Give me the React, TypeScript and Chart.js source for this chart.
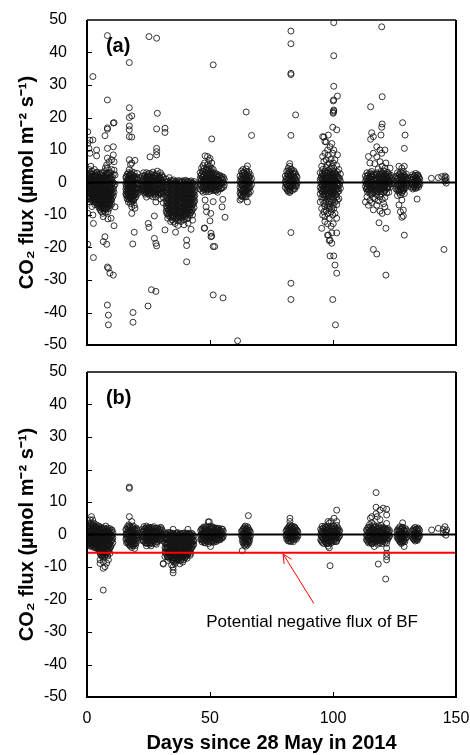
import React, { useEffect, useRef } from "react";
import { Chart, registerables } from "chart.js";

Chart.register(...registerables);

// ---------- axes / labels ----------
const X_MIN = 0;
const X_MAX = 150;
const Y_MIN = -50;
const Y_MAX = 50;
const xTickStep = 50;
const yTickStep = 10;
const yTitle = "CO₂ flux (µmol m⁻² s⁻¹)";
const xTitle = "Days since 28 May in 2014";
const panelLabels = ["(a)", "(b)"];
const panelLabelAt = [7.7, 41.8];
const thresholdFlux = -5.6;
const noteText = "Potential negative flux of BF";
const noteAt = [91.5, -27.1];
const arrowFrom = [92.2, -21.2];
const arrowTo = [79.7, -6.0];

// ---------- panel (a): [day, fluxes observed on that day] ----------
const fluxA: [number, number[]][] = [
  [0.3, [15.6, 12, 2.5, 1, -0.5, -2, -3.5, -5, -9.5, -19]],
  [0.8, [10.5, 4, 2, 0.5, -1, -2.5, -4, -1.5]],
  [1.2, [9, 13, 3, 1.5, 0, -1, -3, -4.5, -6]],
  [1.6, [5, 2.5, 0.8, -0.5, -2, -3.2, -5.5]],
  [2.0, [3.5, 1.5, -0.2, -1.5, -2.8, -4, -7.4]],
  [2.4, [32.6, 13.1, 2, 0.5, -1, -2.3, -3.6, -5, -10]],
  [2.6, [1, -0.7, -2, -3, -12.6, -23.1]],
  [3.0, [4, 2.2, 0.3, -1.2, -2.5, -3.8, -4.8]],
  [3.5, [1.5, -0.3, -1.8, -3.2, -4.5, -6]],
  [3.9, [10, 8.2, 3, 1, -0.5, -2, -3.5, -5, -6.5]],
  [4.4, [2, 0.2, -1.5, -2.7, -4, -5.5, -7]],
  [4.9, [1.2, -0.4, -2, -3.3, -4.6, -6, -7.8]],
  [5.4, [2.5, 0.6, -1, -2.5, -3.8, -5.2, -6.8, -8.5]],
  [5.9, [1.5, 0, -1.6, -3, -4.3, -5.7, -7.3, -9]],
  [6.4, [3, 0.9, -0.7, -2.2, -3.6, -5, -6.4, -8, -9.5]],
  [6.6, [-10.5, -18.2]],
  [7.0, [2, 0.3, -1.3, -2.8, -4.1, -5.5, -7, -8.6]],
  [7.3, [14.4, -16.7]],
  [7.5, [4.5, 1.2, -0.5, -2, -3.4, -4.8, -6.2, -7.7, -9.2]],
  [8.0, [5.4, 2.5, 0.5, -1.2, -2.6, -4, -5.5, -6.8, -8.2, -19]],
  [8.3, [45.2, 25.4, 16.8, 16.4, 10.5, 7.5, 4.4, -26, -37.7]],
  [8.5, [1.5, -0.3, -1.9, -3.3, -4.7, -6, -7.5, -9, -11.2]],
  [8.7, [-26.4, -40.8, -43.8]],
  [9.0, [6.4, 3, 0.8, -1, -2.5, -3.9, -5.2, -6.6, -8]],
  [9.3, [-27.9]],
  [9.5, [2, 0, -1.6, -3, -4.4, -5.8, -7.1]],
  [9.8, [-11]],
  [10.0, [7, 4, 1, -0.8, -2.4, -3.8, -5.4, -6.7]],
  [10.7, [18.3, 11, 8.5, 2.5, 0, -2, -4, -28.5]],
  [11.0, [18.4, 6.4, 3.8, -1, -3, -13.3]],
  [11.4, [2.3, -0.5, -7.5]],

  [15.8, [1.5, -0.5, -2, -3.5]],
  [16.3, [2.5, 0.8, -0.8, -2.4, -3.8, -5]],
  [16.8, [3, 1.2, -0.3, -1.8, -3.2, -4.6, -6]],
  [17.2, [36.9, 23, 20, 17.4, 16.2, 14.1, 7, 4, 2, 0.4, -1.2, -2.6, -4, -5.4]],
  [17.7, [5.5, 2.6, 1, -0.6, -2, -3.4, -4.8, -6.5]],
  [18.2, [20.5, 14, 6, 3.3, 1.6, 0, -1.5, -3, -4.4, -6, -7.5, -9.5]],
  [18.6, [-18.9]],
  [18.7, [2.2, 0.4, -1.1, -2.6, -4, -5.3, -40, -43]],
  [19.2, [3, 1.2, -0.4, -2, -3.5, -5, -7, -15.3]],
  [19.5, [6.8, -7.9]],
  [19.8, [1.8, 0, -1.6, -3, -4.5]],
  [20.4, [2.8, 0.9, -0.7, -2.2, -3.6]],
  [21.0, [1.5, -0.2, -1.8, -3]],

  [22.5, [2, 0.4, -1, -2.4]],
  [23.0, [3, 1.2, -0.3, -1.7, -3]],
  [23.6, [2.2, 0.6, -0.9, -2.3, -3.6]],
  [24.2, [3, 1.3, -0.2, -1.6, -3, -4.5]],
  [24.8, [2.4, 0.8, -0.7, -2.1, -3.5, -38]],
  [24.9, [-12.6]],
  [25.2, [44.9, 2.8, 1, -0.5, -2, -3.4, -13.8]],
  [25.6, [7.9, 1.8, 0.2, -1.3, -2.7, -4]],
  [26.2, [2.6, 1, -0.5, -2, -3.3, -33]],
  [26.8, [3.2, 1.5, 0, -1.5, -2.8, -4.4]],
  [27.4, [2.2, 0.5, -1, -2.4, -3.7, -10.3, -17.2]],
  [28.0, [1.4, -0.2, -1.7, -3, -4.5, -6, -18.7, -33.5]],
  [28.3, [44.4, 16.5, 10.5, 9.5, 8.5, 2.6, 0.8, -19.5]],
  [28.6, [21.3, 3.5, -0.7, -2.2]],
  [29.2, [2, 0.4, -1.1, -2.5, -3.8]],
  [29.8, [3, 1.2, -0.4, -1.8, -3.2, -5]],
  [30.4, [2.3, 0.6, -0.9, -2.3, -3.6]],
  [31.0, [1.5, 0, -1.5, -3, -4.6, -6.2]],
  [31.7, [16.7, 15.4, -14.6]],

  [32.2, [1, -0.8, -2.4, -4, -5.6, -7.2, -8.8]],
  [32.8, [0.3, -1.4, -3, -4.6, -6.2, -7.8, -9.4, -11]],
  [33.4, [1.5, -0.2, -1.8, -3.4, -5, -6.6, -8.2, -9.8]],
  [34.0, [0.6, -1, -2.6, -4.2, -5.8, -7.4, -9, -10.6, -12]],
  [34.6, [-0.4, -2, -3.6, -5.2, -6.8, -8.4, -10, -11.5]],
  [35.2, [0.8, -0.8, -2.4, -4, -5.6, -7.2, -8.8, -10.4, -12]],
  [35.8, [-0.2, -1.8, -3.4, -5, -6.6, -8.2, -9.8, -12.6]],
  [36.0, [-15.3]],
  [36.4, [0.4, -1.2, -2.8, -4.4, -6, -7.6, -9.2, -10.8]],
  [37.0, [-0.6, -2.2, -3.8, -5.4, -7, -8.6, -10.2, -11.8, -13.2]],
  [37.6, [0.2, -1.4, -3, -4.6, -6.2, -7.8, -9.4, -11]],
  [38.2, [-0.8, -2.4, -4, -5.6, -7.2, -8.8, -10.4, -12]],
  [38.8, [0.5, -1.1, -2.7, -4.3, -5.9, -7.5, -9.1, -10.7]],
  [39.4, [-0.3, -1.9, -3.5, -5.1, -6.7, -8.3, -9.9, -11.5, -13]],
  [40.0, [0.7, -0.9, -2.5, -4.1, -5.7, -7.3, -8.9, -10.5]],
  [40.5, [-1.6, -3.2, -4.8, -6.4, -8, -9.6, -11.2, -17.7, -19.4, -24.4]],
  [41.1, [0.2, -1.4, -3, -4.6, -6.2, -7.8, -9.4, -11, -12.5]],
  [41.7, [-0.5, -2.1, -3.7, -5.3, -6.9, -8.5, -10.1]],
  [42.3, [0.5, -1.2, -2.8, -4.4, -6, -7.6, -9.2, -14.4]],
  [42.9, [-0.3, -1.9, -3.5, -5.1, -6.7, -8.3, -10, -11.6]],
  [43.5, [0.3, -1.3, -2.9, -4.5, -6.1, -7.7]],

  [46.0, [3, 1.2, -0.4, -2]],
  [46.6, [4.5, 2.5, 0.8, -0.8, -2.5]],
  [47.2, [5.2, 3.3, 1.6, 0, -1.6, -3]],
  [47.7, [-14.1]],
  [47.8, [6, 2.2, 0.5, -1.2, -14]],
  [48.0, [8.2, -5.4]],
  [48.4, [4, 1.8, 0.2, -1.4, -2.8, -7.5]],
  [48.6, [-9]],
  [49.0, [8, 5.5, 3, 1, -0.6, -2.2]],
  [49.6, [6.8, 4.2, 2.2, 0.5, -1.2, -2.8]],
  [50.0, [7.4, -11.8]],
  [50.3, [3.5, 1.4, -0.3, -2, -9.5]],
  [50.4, [-15.6, -16.7]],
  [50.7, [13.4, 6, 2.6, 0.8, -1, -2.5, -16.5]],
  [51.3, [36.2, 4, 1.8, 0, -1.6, -5.9, -19.7, -34.6]],
  [51.9, [3, 1, -0.7, -2.2, -19.7]],
  [52.5, [2.2, 0.6, -1, -2.6]],
  [53.1, [1.6, 0, -1.5, -3]],
  [53.7, [2, 0.4, -1.2]],
  [54.3, [1.2, -0.4, -2]],
  [54.9, [1.8, 0, -1.6, -7.5]],
  [55.2, [0.8, -5.2]],
  [55.3, [-35.5]],
  [55.8, [1, -0.8]],
  [56.1, [-10.7]],

  [61.2, [-48.7]],
  [62.2, [2, 0.3, -1.5, -3.2, -5.4]],
  [62.8, [3.5, 1.5, -0.2, -2, -3.6, -5]],
  [63.4, [4, 2.2, 0.6, -1, -2.6, -4.2]],
  [64.0, [3, 1.2, -0.4, -2, -3.6]],
  [64.7, [21.7, 4.2, 2, 0.4, -1.2, -2.8, -4.4]],
  [65.2, [5.1, 2.6, 0.9, -0.8, -2.4, -6]],
  [65.8, [3.2, 1.4, -0.2, -1.8, -3.4]],
  [66.4, [2.4, 0.6, -1.2, -2.8]],
  [66.9, [14.5, 1.2, -0.6]],

  [80.6, [2, 0.2, -1.5]],
  [81.2, [3.5, 1.5, -0.3, -2]],
  [81.8, [4.4, 2.4, 0.6, -1.2, -2.8]],
  [82.4, [5.8, 5, 3.2, 1.3, -0.5, -2.2, -3.1]],
  [82.9, [46.6, 42.7, 33.6, 33.2, 14.5, 4, 2, 0.2, -1.6, -15.4, -31, -36]],
  [83.5, [3, 1.2, -0.6, -2.4]],
  [84.1, [3.6, 1.8, 0, -1.8]],
  [84.8, [20.8, 2.6, 0.8, -1]],
  [85.4, [1.6, -0.2]],

  [94.8, [3, 0.8, -1.5, -3.5, -6]],
  [95.4, [5, 2, 0, -2, -4.5, -8, -14.1]],
  [95.8, [14.1, 8, 4, 1.2, -0.8, -3, -5.5, -10]],
  [96.3, [14, 6.5, 2.5, 0.5, -1.5, -3.8, -6.5, -9]],
  [96.7, [12.6, 9, 3.5, 1, -1, -2.6, -4.6, -7.4, -10.5, -12]],
  [97.2, [12.5, 7, 4.6, 2, 0, -2, -4, -6, -8.6]],
  [97.8, [10, 5.5, 2.8, 0.6, -1.4, -3.2, -5.2, -7.2, -9.6, -12.7, -16.2]],
  [98.1, [14.6, 8.4, 3.6, 1.4, -0.6, -2.4, -4.4, -6.6, -16.2]],
  [98.5, [6, 2.4, 0.2, -1.8, -3.6, -5.8, -8, -11, -17.9]],
  [98.8, [11, 4.2, 1.8, -0.4, -2.8, -5, -7.6, -17.7, -22.6]],
  [99.2, [7.2, 3, 0.8, -1.2, -3.2, -6, -9, -13.5]],
  [99.5, [12, 5, 2.2, 0, -2, -4.2, -8, -15.5, -18.7]],
  [99.9, [17, 9, 3.6, 1.2, -0.8, -2.8, -5.4, -10, -36]],
  [100.1, [25.1, 21.6, 21.3, 6, 2.6, 0.4, -1.6, -3.6, -7, -12.7]],
  [100.3, [49.2, 39, 29.6, 25.4, 22.3, 22, 10, 4.4, 1.6, -0.6, -2.6, -4.8, -8, -22.6]],
  [100.8, [7, 3, 0.8, -1.2, -3.4, -6, -9.5, -25.4]],
  [101.0, [-43.8]],
  [101.5, [16.2, 5.2, 2, -0.2, -2.2, -4.4, -6.8, -11, -15.5, -27.9]],
  [101.8, [26.6, 8.5, 3.2, 1, -1, -3, -5.5]],
  [102.4, [4, 1.4, -0.6, -2.6, -5]],
  [103.0, [2.6, 0.4, -1.8]],

  [113.2, [2, 0.4, -1.2, -6]],
  [113.8, [3, 1.2, -0.4, -2, -4.4]],
  [114.4, [8, 2.4, 0.8, -0.8, -2.4, -7]],
  [115.0, [6, 3, 1.4, -0.2, -1.8, -3.4, -5.5]],
  [115.3, [23.3, 13.3, 2, 0.4, -1.2]],
  [115.7, [15.3, 3.4, 1.6, 0, -1.6, -3.6, -6.2]],
  [116.4, [14.1, 9, 2.6, 1, -0.6, -2.2, -4.6, -8.4, -20.6]],
  [117.0, [5.8, 2.2, 0.6, -1, -2.6, -5]],
  [117.8, [11, 7.9, 3, 1.2, -0.4, -2, -3.8, -7, -22]],
  [118.4, [4.2, 1.8, 0.2, -1.4, -3, -5.6]],
  [118.7, [-12.4]],
  [119.1, [10, 6.4, 2.6, 1, -0.6, -2.2, -4.4, -8.8]],
  [119.5, [14.6, 3.4, 1.4, -0.2, -1.8, -3.6]],
  [119.8, [47.9, 17, 9, 2, 0.6, -1]],
  [120.0, [26.4, 18, 5, 2.8, 1.2, -0.4, -2, -5.2, -9.5]],
  [120.6, [3.6, 1.8, 0.2, -1.4, -3, -6.5]],
  [121.1, [10, 4.4, 2.2, 0.6, -1, -2.6, -4.6, -7.5]],
  [121.5, [6, 2.6, 1, -0.6, -14.1, -28.5]],
  [122.1, [3.2, 1.4, -0.2, -1.8, -9]],
  [122.7, [2.6, 0.8, -0.8, -3]],
  [123.2, [4.4, 1.8, 0.2, -1.4]],
  [123.8, [1.2, -0.4]],

  [125.6, [1.5, -0.3, -2]],
  [126.2, [3, 1.2, -0.6, -2.4, -4]],
  [126.8, [5, 2.4, 0.6, -1.2, -3, -6.9]],
  [127.4, [3.2, 1.6, -0.2, -2, -3.8, -9]],
  [128.0, [4.4, 2, 0.4, -1.4, -3.2, -5.4, -10.7]],
  [128.3, [18.4]],
  [128.6, [3.4, 1.2, -0.6, -2.4, -8.5, -10.3]],
  [129.0, [10.5, 5, 2.2, 0.4, -1.4, -3.4, -16.2]],
  [129.3, [14.6, 1.6, -0.4]],
  [129.8, [2.6, 0.8, -1]],
  [130.3, [1.4, -0.4]],

  [131.8, [1.6, 0, -1.4]],
  [132.4, [2.4, 0.8, -0.8, -2]],
  [133.0, [2, 0.4, -1.2]],
  [133.6, [2.8, 1.2, -0.4, -1.8]],
  [134.2, [2.2, 0.6, -1, -5.1]],
  [134.8, [1.8, 0.2, -1.4]],
  [135.3, [1, -0.6]],

  [140.0, [1.3]],
  [142.8, [1.5]],
  [144.2, [1.8]],
  [145.1, [-20.6]],
  [145.5, [2, 1.2, 0.4]],
  [146.0, [1.6, 0.6, -0.2]],
];

// panel (a): extra readings inside the dense dark cores
const fluxACore: [number, number[]][] = [
  [0.5, [1.8, 0.2, -1.2, -2.8, -4.2]],
  [1.0, [2.8, 1, -0.4, -2, -3.6, -5]],
  [1.4, [1.6, -0.2, -1.8, -3.4, -4.8]],
  [2.2, [2.6, 0.9, -0.8, -2.2, -3.8, -5.4]],
  [2.8, [1.8, 0, -1.4, -3.2, -4.4, -6]],
  [3.2, [2.8, 1, -0.6, -2, -3.6, -5.4, -6.8]],
  [3.7, [2, 0.6, -1.2, -2.6, -4, -5.4]],
  [4.1, [3.2, 1.4, -0.2, -1.8, -3.4, -4.8, -6.2]],
  [4.6, [2.4, 0.8, -0.8, -2.4, -3.8, -5.2, -6.6]],
  [5.1, [1.8, 0.2, -1.4, -2.8, -4.2, -5.6, -7.2]],
  [5.6, [3, 1.2, -0.4, -2, -3.4, -4.8, -6.2, -7.8]],
  [6.1, [2.2, 0.4, -1.2, -2.6, -4, -5.6, -7]],
  [6.8, [1.2, -0.4, -2, -3.4, -4.8, -6.2, -7.8]],
  [7.2, [3.4, 1.4, -0.2, -1.8, -3.2, -4.6, -6.4, -8]],
  [7.8, [2.2, 0.6, -1, -2.4, -3.8, -5.2, -6.6, -7.9]],
  [8.2, [3, 1.2, -0.4, -2, -3.4, -4.8, -6.2, -7.6]],
  [8.8, [2.4, 0.6, -1.2, -2.6, -4, -5.4, -6.8]],
  [9.2, [1.4, -0.2, -1.8, -3.2, -4.6, -6]],
  [9.7, [3, 0.8, -0.8, -2.4, -3.6, -5]],
  [10.3, [1.6, -0.2, -1.8, -3.2, -4.6]],

  [16.0, [1.8, 0.2, -1.2, -2.8, -4]],
  [16.6, [1, -0.4, -1.8, -3.2]],
  [17.0, [2.2, 0.8, -0.8, -2.2, -3.6, -5]],
  [17.5, [1.4, -0.2, -1.6, -3, -4.4]],
  [18.0, [2.6, 1, -0.6, -2.2, -3.6, -5.2]],
  [18.5, [1.2, -0.4, -1.8, -3.4, -4.8]],
  [19.0, [2, 0.4, -1, -2.6, -4, -5.6]],
  [19.6, [1, -0.6, -2.2, -3.8]],
  [20.1, [1.4, -0.2, -1.8, -3]],
  [20.7, [0.8, -0.8, -2.4]],

  [22.8, [1, -0.6, -1.8]],
  [23.3, [1.8, 0.2, -1.2, -2.6]],
  [23.9, [1.2, -0.4, -1.8, -3]],
  [24.5, [2, 0.4, -1.2, -2.6]],
  [25.0, [1.6, 0, -1.4, -2.8]],
  [25.9, [1.2, -0.4, -2, -3.2]],
  [26.5, [2, 0.4, -1.2, -2.6]],
  [27.1, [1.4, -0.2, -1.8, -3]],
  [27.7, [2.2, 0.8, -0.6, -2, -3.4]],
  [28.9, [1.2, -0.4, -2, -3.2]],
  [29.5, [1.6, 0, -1.6, -3]],
  [30.1, [1.2, -0.4, -1.8, -3.2]],
  [30.7, [1.8, 0.2, -1.2, -2.6]],

  [32.5, [0, -1.6, -3.2, -4.8, -6.4, -8, -9.6]],
  [33.1, [-0.6, -2.2, -3.8, -5.4, -7, -8.6, -10.2]],
  [33.7, [0.2, -1.4, -3, -4.6, -6.2, -7.8, -9.4]],
  [34.3, [-0.4, -2, -3.6, -5.2, -6.8, -8.4, -10]],
  [34.9, [0.4, -1.2, -2.8, -4.4, -6, -7.6, -9.2, -10.8]],
  [35.5, [-0.6, -2.2, -3.8, -5.4, -7, -8.6, -10.2]],
  [36.1, [0, -1.6, -3.2, -4.8, -6.4, -8, -9.6, -11.2]],
  [36.7, [-0.4, -2, -3.6, -5.2, -6.8, -8.4, -10]],
  [37.3, [0.6, -1, -2.6, -4.2, -5.8, -7.4, -9, -10.6]],
  [37.9, [-0.2, -1.8, -3.4, -5, -6.6, -8.2, -9.8]],
  [38.5, [0.2, -1.4, -3, -4.6, -6.2, -7.8, -9.4, -11]],
  [39.1, [-0.6, -2.2, -3.8, -5.4, -7, -8.6, -10.2]],
  [39.7, [0.2, -1.4, -3, -4.6, -6.2, -7.8, -9.4]],
  [40.3, [-0.4, -2, -3.6, -5.2, -6.8, -8.4, -10]],
  [40.8, [0.4, -1.2, -2.8, -4.4, -6, -7.6, -9.2]],
  [41.4, [-0.2, -1.8, -3.4, -5, -6.6, -8.2, -9.8]],
  [42.0, [0.2, -1.4, -3, -4.6, -6.2, -7.8, -9.4]],
  [42.6, [-0.6, -2.2, -3.8, -5.4, -7, -8.6]],
  [43.2, [-0.2, -1.8, -3.4, -5, -6.6]],
  [43.8, [-0.8, -2.4, -4, -5.6]],

  [46.3, [2, 0.4, -1.2]],
  [46.9, [3.4, 1.6, 0, -1.6]],
  [47.5, [4.2, 2.4, 0.8, -0.8, -2.2]],
  [48.1, [3, 1.2, -0.4, -2]],
  [48.7, [4.6, 2.6, 1, -0.6, -2]],
  [49.3, [3.8, 1.8, 0.2, -1.4]],
  [49.9, [5, 2.8, 1.2, -0.4, -2]],
  [50.5, [4.4, 2, 0.4, -1.4]],
  [51.0, [3, 1.2, -0.4, -2]],
  [51.6, [2.6, 0.8, -0.8, -2.4]],
  [52.2, [1.8, 0, -1.6]],
  [52.8, [2.6, 1, -0.6, -2.2]],
  [53.4, [1, -0.6, -2]],
  [54.0, [2.2, 0.6, -1]],
  [54.6, [1.4, -0.2, -1.8]],
  [55.5, [1.6, 0, -1.4]],

  [62.5, [1, -0.6, -2.4, -4]],
  [63.1, [2.8, 1, -0.8, -2.6, -4.4]],
  [63.7, [3.2, 1.6, -0.2, -1.8, -3.4]],
  [64.3, [2.4, 0.8, -1, -2.8, -4.2]],
  [64.9, [3.4, 1.6, -0.2, -2, -3.6]],
  [65.5, [2, 0.4, -1.4, -3]],
  [66.1, [1.8, 0, -1.6]],

  [80.9, [1, -0.6]],
  [81.5, [2.6, 0.8, -1, -2.4]],
  [82.1, [3.6, 1.8, 0, -1.8]],
  [82.6, [2.4, 0.6, -1.2, -2.6]],
  [83.2, [4, 2.2, 0.4, -1.2]],
  [83.8, [2.6, 0.8, -1]],
  [84.4, [3, 1.2, -0.6, -2]],
  [85.1, [2, 0.4, -1.2]],

  [95.1, [1.4, -0.4, -2.4]],
  [95.6, [2.8, 1, -1, -2.8]],
  [96.0, [2, 0, -2, -3.8]],
  [96.5, [3, 1.2, -0.6, -2.6]],
  [97.0, [1.6, -0.2, -2.2, -3.6]],
  [97.5, [3.2, 1.2, -0.8, -2.6]],
  [98.3, [2, 0, -2, -4]],
  [98.9, [3, 1, -1, -3]],
  [99.4, [1.8, -0.2, -2.4]],
  [99.7, [2.6, 0.6, -1.4, -3.6]],
  [100.5, [3, 1, -1, -3]],
  [101.2, [2.2, 0.2, -1.8, -3.8]],
  [102.0, [1.8, -0.2, -2]],
  [102.7, [1.2, -0.8]],

  [113.5, [1.2, -0.4, -2]],
  [114.1, [2, 0.2, -1.4, -3]],
  [114.7, [1.2, -0.4, -2.2]],
  [115.5, [2.6, 0.8, -0.8, -2.4]],
  [116.1, [1.8, 0, -1.8, -3.2]],
  [116.7, [2.4, 0.4, -1.4, -3]],
  [117.4, [1.4, -0.4, -2]],
  [118.1, [2.6, 0.6, -1, -2.6]],
  [118.8, [1.6, -0.2, -1.8]],
  [119.4, [2.4, 0.4, -1.2, -2.8]],
  [120.3, [1.8, 0, -1.6]],
  [120.9, [2.6, 0.8, -0.8, -2.2]],
  [121.8, [1.8, 0.2, -1.6, -3.2]],
  [122.4, [2, 0.2, -1.4]],
  [123.0, [1.4, -0.4]],
  [123.5, [2.2, 0.6]],

  [125.9, [2, 0.4, -1.2]],
  [126.5, [1.4, -0.4, -2]],
  [127.1, [2.4, 0.8, -1, -2.6]],
  [127.7, [1.2, -0.6, -2.2]],
  [128.3, [2.8, 1, -0.8, -2.6]],
  [128.9, [1.6, -0.2, -2]],
  [129.6, [1.8, 0, -1.6]],
  [130.0, [0.8, -0.8]],

  [132.1, [1, -0.6]],
  [132.7, [1.6, 0, -1.6]],
  [133.3, [2.2, 0.6, -1]],
  [133.9, [1.4, -0.2, -1.6]],
  [134.5, [2.4, 0.8, -0.8]],
  [135.0, [1.4, -0.2]],
];

// ---------- panel (b) ----------
const fluxB: [number, number[]][] = [
  [0.3, [2.5, 1, -0.4, -1.8, -3]],
  [0.8, [3.5, 1.8, 0.3, -1.2, -2.6]],
  [1.3, [4.5, 2.4, 0.8, -0.7, -2.2, -3.6]],
  [1.8, [5.5, 3.2, 1.5, 0, -1.5, -3]],
  [2.3, [4.5, 2.6, 1, -0.5, -2, -3.4]],
  [2.8, [3.5, 1.8, 0.3, -1.2, -2.7, -4]],
  [3.3, [2.4, 0.9, -0.6, -2, -3.4]],
  [3.8, [3, 1.4, -0.1, -1.6, -3, -4.2]],
  [4.3, [2, 0.5, -1, -2.4, -3.8]],
  [4.8, [2.6, 1, -0.5, -2, -3.4, -4.8]],
  [5.3, [1.6, 0.1, -1.4, -2.8, -4.2, -5.6, -7.8, -8.9]],
  [5.8, [2.2, 0.6, -0.9, -2.4, -3.8, -5.2]],
  [6.0, [-6.3]],
  [6.3, [1.4, -0.1, -1.6, -3, -4.4, -5.8, -7]],
  [6.6, [-8.4, -10.4, -17.1]],
  [6.9, [2, 0.4, -1.1, -2.6, -4, -5.4]],
  [7.3, [-9.9]],
  [7.6, [2.6, 1, -0.5, -2, -3.5, -4.9, -6.2]],
  [8.0, [-8.8]],
  [8.2, [1.6, 0, -1.5, -3, -4.4, -5.6]],
  [8.7, [1, -0.6, -2.1, -3.6, -5, -7.8]],
  [9.3, [1.8, 0.2, -1.3, -2.8, -4.2, -5.8]],
  [9.9, [1.2, -0.4, -1.9, -3.3]],
  [10.5, [0.6, -1, -2.5]],

  [15.8, [1.5, 0, -1.4]],
  [16.4, [2.4, 0.8, -0.8, -2.2]],
  [17.0, [3, 1.4, -0.2, -1.6, -3]],
  [17.2, [14.6, 14.2, 5.5]],
  [17.6, [2.2, 0.6, -1, -2.4, -3.6]],
  [18.2, [4, 1.8, 0.2, -1.3, -2.8, -4]],
  [18.8, [2.6, 1, -0.6, -2, -3.4]],
  [19.4, [1.6, 0, -1.5, -2.9, -4.3]],
  [20.0, [2, 0.4, -1.2, -2.6]],
  [20.6, [1.2, -0.4, -1.8]],

  [22.5, [1.6, 0, -1.5]],
  [23.1, [2.4, 0.8, -0.8, -2]],
  [23.7, [1.8, 0.2, -1.3, -2.6]],
  [24.2, [2.6, 1, -0.6, -2, -3.5]],
  [24.8, [2, 0.4, -1.1, -2.5]],
  [25.4, [1.4, -0.2, -1.7, -3]],
  [26.0, [2.2, 0.6, -1, -2.4, -3.5]],
  [26.6, [1.6, 0, -1.5, -2.8]],
  [27.2, [2.4, 0.8, -0.7, -2.1]],
  [27.8, [1.8, 0.2, -1.3, -2.7]],
  [28.2, [1, -0.6, -3]],
  [28.8, [2, 0.4, -1.2]],
  [29.4, [1.4, -0.2, -1.7]],
  [30.0, [2.2, 0.6, -0.9]],
  [30.6, [1.2, -0.4, -1.9]],

  [31.0, [-8.9, -9.1]],
  [31.7, [0.5, -1, -2.5, -4, -5.4, -6.8]],
  [32.3, [-0.2, -1.7, -3.2, -4.6, -6]],
  [32.9, [0.6, -0.9, -2.4, -3.9, -5.3, -6.8, -8]],
  [33.5, [-0.4, -1.9, -3.4, -4.8, -6.2, -7.4]],
  [34.1, [0.3, -1.2, -2.7, -4.1, -5.5, -6.9]],
  [34.4, [-9.4]],
  [34.7, [-0.6, -2.1, -3.6, -5, -6.4, -7.8]],
  [35.0, [1.6, -10, -10.9, -11.8]],
  [35.3, [0.1, -1.4, -2.9, -4.3, -5.7, -7.1, -8.4]],
  [35.8, [-8.9]],
  [35.9, [-0.5, -2, -3.5, -4.9, -6.3, -7.6]],
  [36.5, [0.4, -1.1, -2.6, -4, -5.4, -6.8, -8.2]],
  [37.1, [-0.3, -1.8, -3.3, -4.7, -6.1, -7.4]],
  [37.7, [0.2, -1.3, -2.8, -4.2, -5.6, -7, -9]],
  [38.3, [-0.6, -2.1, -3.6, -5, -6.4, -7.8]],
  [38.9, [0.3, -1.2, -2.7, -4.1, -5.5, -6.9, -8.5]],
  [39.3, [-7.8]],
  [39.5, [-0.4, -1.9, -3.4, -4.8, -6.2]],
  [40.1, [0.5, -1, -2.5, -3.9, -5.3, -6.8]],
  [40.7, [-0.2, -1.7, -3.2, -4.6, -6, -7.3]],
  [41.0, [1.6]],
  [41.3, [0.2, -1.3, -2.8, -4.2, -5.6]],
  [41.9, [-0.5, -2, -3.5, -4.9, -6.4]],
  [42.5, [0.3, -1.2, -2.7, -4.1]],
  [43.1, [-0.4, -1.9, -3.3]],

  [46.2, [1.2, -0.3, -1.6]],
  [46.8, [1.8, 0.3, -1.1, -2.3]],
  [47.4, [2.3, 0.8, -0.6, -1.9]],
  [48.0, [1.6, 0.1, -1.3, -2.6]],
  [48.6, [2.2, 0.7, -0.7, -2]],
  [49.3, [3.9, 1.5, 0, -1.4, -2.8]],
  [49.7, [3.9]],
  [50.0, [2.6, 1, -0.5, -1.8]],
  [50.2, [-3.7]],
  [50.6, [1.8, 0.3, -1.1, -2.4]],
  [51.2, [2.2, 0.7, -0.8, -2]],
  [51.8, [1.4, -0.1, -1.5]],
  [52.4, [2, 0.5, -0.9, -2.2]],
  [53.0, [1.5, 0, -1.4]],
  [53.6, [1.9, 0.4, -1]],
  [54.2, [1.2, -0.3, -1.6]],
  [54.8, [1.7, 0.2, -1.1]],
  [55.4, [1, -0.5]],

  [62.8, [1, -0.4]],
  [63.1, [-5]],
  [63.4, [1.6, 0.2, -1.2, -2.6]],
  [64.0, [2.2, 0.8, -0.6, -2, -3.3]],
  [64.6, [1.8, 0.4, -1, -2.4, -3.6]],
  [65.2, [2.4, 1, -0.4, -1.8, -3.2]],
  [65.6, [5.8]],
  [65.8, [1.4, 0, -1.4, -2.6]],
  [66.4, [0.8, -0.6]],

  [80.9, [1, -0.4]],
  [81.5, [1.8, 0.4, -1]],
  [82.1, [2.4, 1, -0.4, -1.8]],
  [82.5, [5, 4, 2.9]],
  [82.7, [2, 0.6, -0.8, -2.2]],
  [83.3, [2.6, 1.2, -0.2, -1.6]],
  [83.9, [1.8, 0.4, -1, -2.2]],
  [84.5, [2.2, 0.8, -0.6]],
  [85.1, [1.4, 0, -1.4]],
  [85.7, [0.8, -0.6]],

  [95.0, [1.6, 0, -1.6]],
  [95.6, [2.5, 0.8, -0.8, -2.4]],
  [96.2, [2, 0.4, -1.2, -2.8]],
  [96.8, [2.6, 1, -0.6, -2.2]],
  [97.4, [1.8, 0.2, -1.4, -2.8]],
  [98.0, [4, 2.4, 0.8, -0.8, -2.4, -3.6]],
  [98.5, [3.5, 1.6, 0, -1.6, -4.1]],
  [98.8, [-9.6]],
  [99.2, [4, 2.2, 0.6, -1, -2.6]],
  [99.8, [1.8, 0.2, -1.4]],
  [100.4, [5, 2.6, 1, -0.6, -2.2]],
  [101.0, [2, 0.4, -1.2]],
  [101.5, [7.5, 4, 2.8, 1.2, -0.4, -2]],
  [102.1, [2, 0.4, -1]],
  [102.7, [1.2, -0.4]],

  [113.6, [1.4, -0.2, -1.6]],
  [114.2, [2.2, 0.6, -1, -2.2]],
  [114.8, [3, 1.4, -0.2, -1.8]],
  [115.2, [5]],
  [115.4, [2.4, 0.8, -0.8, -2.4]],
  [115.8, [5.5, 3.6]],
  [116.0, [1.8, 0.2, -1.4, -2.8]],
  [116.6, [3, 1.4, -0.2, -1.6]],
  [116.8, [-3.7]],
  [117.2, [2.2, 0.6, -1, -2.4]],
  [117.5, [12.9, 8.4, 6.4]],
  [117.8, [1.6, 0, -1.6]],
  [118.0, [5.5]],
  [118.4, [2.6, 1, -0.6, -2, -9.1]],
  [119.0, [2, 0.4, -1.2, -2.6]],
  [119.1, [7.5, 4.6]],
  [119.6, [2.8, 1.2, -0.4, -1.8]],
  [120.2, [2.2, 0.6, -1, -2.2]],
  [120.4, [8.1]],
  [120.8, [1.6, 0, -1.4]],
  [121.4, [-13.7]],
  [121.8, [7.8, 6, 3.4, 1.4, -0.2, -1.4, -2.7, -4.2, -5.8, -6.8, -7.8]],
  [122.4, [1.8, 0.2, -1.2]],
  [123.0, [1.2, -0.4]],

  [126.0, [1, -0.6]],
  [126.6, [1.8, 0.2, -1.4]],
  [127.2, [2.4, 0.8, -0.8, -2.2]],
  [127.8, [1.6, 0, -1.6, -2.8]],
  [128.3, [3.6, 2.2, 0.6, -1, -2.4]],
  [128.9, [1.4, -0.2, -1.8, -3.7]],
  [129.5, [1.8, 0.2, -1.2]],
  [130.1, [1, -0.6]],

  [132.2, [1, -0.6]],
  [132.8, [1.8, 0.2, -1.4]],
  [133.4, [2.2, 0.8, -0.8, -2]],
  [134.0, [1.6, 0, -1.6]],
  [134.6, [2, 0.4, -1.2]],
  [135.2, [1.2, -0.4]],

  [140.1, [1.4]],
  [142.8, [1.9]],
  [144.8, [0.4, 1.6]],
  [145.5, [2.4]],
  [145.9, [-0.2, 0.8]],
  [146.2, [1.4]],
];

// panel (b): extra readings inside the dense dark cores
const fluxBCore: [number, number[]][] = [
  [0.5, [1.6, 0, -1.4, -2.6]],
  [1.0, [2.6, 1, -0.4, -1.8, -3.2]],
  [1.5, [3.4, 1.6, 0, -1.4, -2.8]],
  [2.0, [2.2, 0.6, -0.8, -2.2, -3.6]],
  [2.5, [3, 1.4, -0.2, -1.6, -3]],
  [3.0, [2.4, 0.8, -0.6, -2, -3.6]],
  [3.5, [1.8, 0.2, -1.2, -2.6, -4]],
  [4.0, [2.4, 0.8, -0.8, -2.2, -3.4]],
  [4.5, [1.4, -0.2, -1.6, -3, -4.4]],
  [5.0, [2, 0.4, -1, -2.4, -3.8, -5.2]],
  [5.5, [1, -0.6, -2, -3.4, -4.8, -6.2]],
  [6.1, [1.8, 0.2, -1.2, -2.6, -4, -5.4, -6.6]],
  [6.6, [0.8, -0.8, -2.2, -3.6, -5, -6.2]],
  [7.1, [1.6, 0, -1.4, -2.8, -4.2, -5.6, -7]],
  [7.9, [1.2, -0.4, -1.8, -3.2, -4.6, -6]],
  [8.4, [2, 0.4, -1, -2.4, -3.8, -5.2, -6.6]],
  [9.0, [1.2, -0.4, -1.8, -3.2, -4.6]],
  [9.6, [0.6, -0.8, -2.2, -3.8]],
  [10.2, [1.4, -0.2, -1.6]],

  [16.1, [1.6, 0.2, -1.2, -2.6]],
  [16.7, [2, 0.4, -1, -2.4]],
  [17.3, [2.6, 1, -0.6, -2, -3.2]],
  [17.9, [1.4, -0.2, -1.6, -3]],
  [18.5, [2.2, 0.6, -0.8, -2.2, -3.4]],
  [19.1, [1.6, 0, -1.4, -2.8]],
  [19.7, [1, -0.6, -2, -3.4]],
  [20.3, [1.6, 0, -1.2]],

  [22.8, [1, -0.6, -2]],
  [23.4, [1.6, 0.2, -1.2]],
  [24.0, [2, 0.4, -1.2, -2.6]],
  [24.5, [1.4, -0.2, -1.6, -2.8]],
  [25.1, [2.2, 0.6, -0.8, -2]],
  [25.7, [1.8, 0.2, -1.2, -2.6]],
  [26.3, [1.2, -0.4, -1.8]],
  [26.9, [2, 0.4, -1, -2.4]],
  [27.5, [1.2, -0.4, -1.8]],
  [28.5, [1.8, 0.2, -1.2, -2.2]],
  [29.1, [1, -0.6, -1.8]],
  [29.7, [1.6, 0, -1.2]],
  [30.3, [1.8, 0.2, -1.4]],

  [32.0, [0, -1.4, -2.8, -4.2, -5.6]],
  [32.6, [0.2, -1.2, -2.6, -4, -5.4, -6.8]],
  [33.2, [-0.2, -1.6, -3, -4.4, -5.8, -7]],
  [33.8, [0.6, -0.8, -2.2, -3.6, -5, -6.4]],
  [34.4, [-0.2, -1.6, -3, -4.4, -5.8, -7.2]],
  [35.0, [0.4, -1, -2.4, -3.8, -5.2, -6.6, -8]],
  [35.6, [-0.2, -1.6, -3, -4.4, -5.8, -7.2]],
  [36.2, [0.2, -1.2, -2.6, -4, -5.4, -6.8]],
  [36.8, [0.6, -0.8, -2.2, -3.6, -5, -6.4, -7.8]],
  [37.4, [-0.4, -1.8, -3.2, -4.6, -6, -7.2]],
  [38.0, [0.2, -1.2, -2.6, -4, -5.4, -6.8, -8]],
  [38.6, [-0.2, -1.6, -3, -4.4, -5.8, -7.2]],
  [39.2, [0.4, -1, -2.4, -3.8, -5.2, -6.6]],
  [39.8, [-0.2, -1.6, -3, -4.4, -5.8, -7.2]],
  [40.4, [0.2, -1.2, -2.6, -4, -5.4, -6.6]],
  [41.0, [-0.6, -2, -3.4, -4.8, -6.2]],
  [41.6, [0.4, -1, -2.4, -3.8, -5.2]],
  [42.2, [-0.2, -1.6, -3, -4.4, -5.8]],
  [42.8, [0.2, -1.2, -2.6, -3.8]],
  [43.4, [-0.6, -2, -3]],

  [46.5, [1.6, 0, -1.4]],
  [47.1, [1.2, -0.4, -1.8]],
  [47.7, [1.8, 0.2, -1.2, -2.4]],
  [48.3, [2.4, 0.8, -0.6, -1.8]],
  [48.9, [1.4, -0.2, -1.6]],
  [49.6, [2.2, 0.6, -0.8, -2.2]],
  [50.3, [1.6, 0, -1.4]],
  [50.9, [2.4, 0.8, -0.6, -1.8]],
  [51.5, [1.8, 0.2, -1.2, -2.4]],
  [52.1, [1, -0.6, -1.8]],
  [52.7, [1.8, 0.2, -1.4]],
  [53.3, [1.2, -0.4, -1.8]],
  [53.9, [1.4, -0.2, -1.4]],
  [54.5, [1, -0.6]],
  [55.1, [1.6, 0.2, -1]],

  [63.1, [1, -0.4, -1.8]],
  [63.7, [1.8, 0.4, -1, -2.4]],
  [64.3, [2.6, 1.2, -0.2, -1.6, -3]],
  [64.9, [1.6, 0.2, -1.2, -2.8]],
  [65.5, [2, 0.6, -0.8, -2.2]],
  [66.1, [1.2, -0.4, -1.8]],

  [81.2, [1.4, 0, -1.4]],
  [81.8, [2, 0.6, -0.8, -2]],
  [82.4, [1.6, 0.2, -1.2]],
  [83.0, [2.2, 0.8, -0.6, -2]],
  [83.6, [1.6, 0.2, -1.2]],
  [84.2, [2.4, 1, -0.4, -1.6]],
  [84.8, [1.8, 0.4, -1]],
  [85.4, [1.2, -0.4]],

  [95.3, [1, -0.6, -2]],
  [95.9, [1.8, 0.2, -1.4]],
  [96.5, [1.4, -0.2, -1.8]],
  [97.1, [2.2, 0.4, -1.2, -2.6]],
  [97.7, [1.2, -0.6, -2]],
  [98.3, [1.8, 0.2, -1.4, -2.8]],
  [98.9, [1.2, -0.4, -2]],
  [99.5, [2.6, 1, -0.6, -2]],
  [100.1, [1.4, -0.2, -1.8]],
  [100.7, [1.8, 0.2, -1.4]],
  [101.3, [1, -0.6, -2.2]],
  [101.8, [1.6, 0, -1.4]],
  [102.4, [1, -0.6]],

  [113.9, [1.2, -0.4, -1.8]],
  [114.5, [2, 0.4, -1.2, -2.6]],
  [115.1, [1.2, -0.4, -1.8]],
  [115.7, [1.8, 0.2, -1.4, -2.8]],
  [116.3, [2.4, 0.6, -1, -2.4]],
  [116.9, [1.4, -0.2, -1.8]],
  [117.5, [2.4, 0.8, -0.8, -2]],
  [118.1, [1.4, -0.2, -1.4, -3]],
  [118.7, [2, 0.4, -1.2]],
  [119.3, [1.2, -0.4, -2]],
  [119.9, [1.8, 0.2, -1.4, -2.8]],
  [120.5, [1.2, -0.6, -1.8]],
  [121.1, [2, 0.4, -1, -2.4]],
  [121.6, [1, -0.8]],
  [122.1, [1.4, -0.2, -1.8]],
  [122.7, [0.8, -0.8]],

  [126.3, [1.4, -0.2, -1.2]],
  [126.9, [1.2, -0.4, -1.8]],
  [127.5, [1.6, 0.2, -1.4, -2.4]],
  [128.1, [2.2, 0.6, -0.8, -2]],
  [128.6, [1.2, -0.4, -1.8]],
  [129.2, [1, -0.6, -2.2]],
  [129.8, [1.4, 0, -1]],

  [132.5, [1.4, -0.2, -1.2]],
  [133.1, [1.2, -0.4, -1.6]],
  [133.7, [1.6, 0, -1.2]],
  [134.3, [1.2, -0.6, -1.8]],
  [134.9, [1.6, 0.2, -0.8]],
];

const FONT = "Arial, 'Liberation Sans', Helvetica, sans-serif";
Chart.defaults.font.family = FONT;
Chart.defaults.color = "#000";

function toPoints(...tables: [number, number[]][][]) {
  const out: { x: number; y: number }[] = [];
  tables.forEach((rows) => rows.forEach(([d, vs]) => vs.forEach((v) => out.push({ x: d, y: v }))));
  return out;
}

function makePlugin(panel: number) {
  return {
    id: "frame" + panel,
    afterDatasetsDraw(chart: any) {
      const { ctx, chartArea, scales } = chart;
      const { left, right, top, bottom } = chartArea;
      const xs = scales.x;
      const ys = scales.y;
      ctx.save();
      ctx.strokeStyle = "#000";
      ctx.lineWidth = 1;
      ctx.beginPath();
      for (let v = Y_MIN + yTickStep; v < Y_MAX; v += yTickStep) {
        const y = Math.round(ys.getPixelForValue(v)) + 0.5;
        ctx.moveTo(left, y);
        ctx.lineTo(left + 5, y);
      }
      for (let v = X_MIN + xTickStep; v < X_MAX; v += xTickStep) {
        const x = Math.round(xs.getPixelForValue(v)) + 0.5;
        ctx.moveTo(x, bottom);
        ctx.lineTo(x, bottom - 5);
      }
      ctx.stroke();
      ctx.lineWidth = 2;
      ctx.beginPath();
      ctx.moveTo(left, top);
      ctx.lineTo(left, bottom);
      ctx.lineTo(right, bottom);
      ctx.lineTo(right, top);
      ctx.stroke();
      ctx.lineWidth = 1.3;
      ctx.beginPath();
      ctx.moveTo(left, top);
      ctx.lineTo(right, top);
      ctx.stroke();

      ctx.fillStyle = "#000";
      ctx.font = "bold 20px " + FONT;
      ctx.textAlign = "left";
      ctx.textBaseline = "middle";
      ctx.fillText(
        panelLabels[panel],
        xs.getPixelForValue(panelLabelAt[0]),
        ys.getPixelForValue(panelLabelAt[1])
      );

      if (panel === 1) {
        const x1 = xs.getPixelForValue(arrowFrom[0]);
        const y1 = ys.getPixelForValue(arrowFrom[1]);
        const x2 = xs.getPixelForValue(arrowTo[0]);
        const y2 = ys.getPixelForValue(arrowTo[1]);
        ctx.strokeStyle = "#ff0000";
        ctx.lineWidth = 1;
        ctx.beginPath();
        ctx.moveTo(x1, y1);
        ctx.lineTo(x2, y2);
        const ang = Math.atan2(y1 - y2, x1 - x2);
        const L = 10;
        ctx.moveTo(x2, y2);
        ctx.lineTo(x2 + L * Math.cos(ang + 0.45), y2 + L * Math.sin(ang + 0.45));
        ctx.moveTo(x2, y2);
        ctx.lineTo(x2 + L * Math.cos(ang - 0.45), y2 + L * Math.sin(ang - 0.45));
        ctx.stroke();
        ctx.fillStyle = "#000";
        ctx.font = "17px " + FONT;
        ctx.textAlign = "center";
        ctx.textBaseline = "middle";
        ctx.fillText(noteText, xs.getPixelForValue(noteAt[0]), ys.getPixelForValue(noteAt[1]));
      }
      ctx.restore();
    },
  };
}

function zeroPad(s: any) {
  s.paddingTop = 0;
  s.paddingBottom = 0;
  s.paddingLeft = 0;
  s.paddingRight = 0;
}

function makeConfig(panel: number): any {
  const isBottom = panel === 1;
  const datasets: any[] = [
    {
      type: "line",
      data: [
        { x: X_MIN, y: 0 },
        { x: X_MAX, y: 0 },
      ],
      borderColor: "#000",
      borderWidth: 2,
      pointRadius: 0,
      fill: false,
    },
  ];
  if (isBottom) {
    datasets.push({
      type: "line",
      data: [
        { x: X_MIN, y: thresholdFlux },
        { x: X_MAX, y: thresholdFlux },
      ],
      borderColor: "#ff0000",
      borderWidth: 2,
      pointRadius: 0,
      fill: false,
    });
  }
  datasets.push({
    type: "scatter",
    data: isBottom ? toPoints(fluxB, fluxBCore) : toPoints(fluxA, fluxACore),
    pointRadius: 3,
    pointBorderWidth: 1,
    borderColor: "rgba(20,20,20,0.85)",
    backgroundColor: "rgba(0,0,0,0)",
  });
  return {
    type: "scatter",
    data: { datasets },
    options: {
      animation: false,
      responsive: false,
      events: [],
      layout: {
        padding: isBottom
          ? { top: 14, right: 14, bottom: 0, left: 0 }
          : { top: 20, right: 14, bottom: 13, left: 0 },
      },
      plugins: { legend: { display: false }, tooltip: { enabled: false } },
      scales: {
        x: {
          type: "linear",
          min: X_MIN,
          max: X_MAX,
          display: isBottom,
          ticks: { stepSize: xTickStep, color: "#000", font: { size: 16 }, padding: 12, maxRotation: 0 },
          grid: { display: false, drawTicks: false },
          border: { display: false },
          title: {
            display: true,
            text: xTitle,
            color: "#000",
            font: { size: 20, weight: "bold" },
            padding: { top: 0, bottom: 0 },
          },
          afterFit(s: any) {
            if (isBottom) s.height = 58;
            zeroPad(s);
          },
        },
        y: {
          type: "linear",
          min: Y_MIN,
          max: Y_MAX,
          ticks: { stepSize: yTickStep, color: "#000", font: { size: 16 }, padding: 20 },
          grid: { display: false, drawTicks: false },
          border: { display: false },
          title: {
            display: true,
            text: yTitle,
            color: "#000",
            font: { size: 20, weight: "bold" },
            padding: { top: 15, bottom: 0 },
          },
          afterFit(s: any) {
            s.width = 87;
            zeroPad(s);
          },
        },
      },
    },
    plugins: [makePlugin(panel)],
  };
}

export default function App() {
  const refA = useRef<HTMLCanvasElement>(null);
  const refB = useRef<HTMLCanvasElement>(null);
  useEffect(() => {
    const a = new Chart(refA.current as HTMLCanvasElement, makeConfig(0));
    const b = new Chart(refB.current as HTMLCanvasElement, makeConfig(1));
    return () => {
      a.destroy();
      b.destroy();
    };
  }, []);
  return (
    <div style={{ position: "absolute", left: 0, top: 0, width: 470, height: 755, background: "#fff" }}>
      <canvas ref={refA} width={470} height={358} style={{ position: "absolute", left: 0, top: 0 }} />
      <canvas ref={refB} width={470} height={397} style={{ position: "absolute", left: 0, top: 358 }} />
    </div>
  );
}
